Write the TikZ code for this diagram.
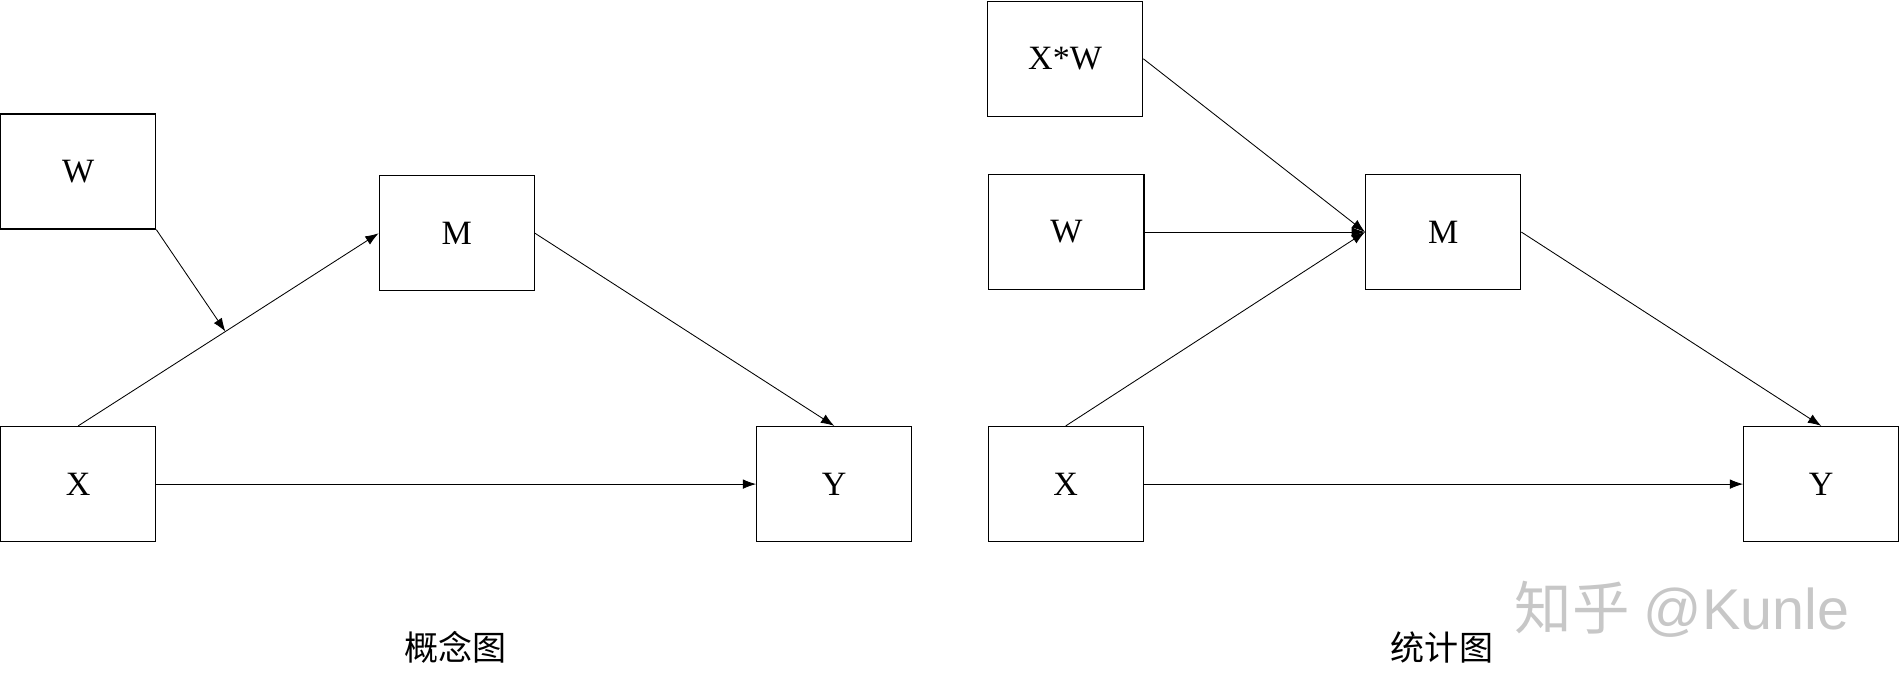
\documentclass[tikz,border=0pt]{standalone}
\usepackage{fontspec}
\setmainfont{Liberation Serif}
\newfontfamily\cjk{Noto Sans CJK SC}
\newfontfamily\marksans{Liberation Sans}
\usetikzlibrary{arrows.meta,calc}
\tikzset{
  var/.style={rectangle, draw=black, semithick, minimum width=2.56cm, minimum height=1.9cm, font=\fontsize{16}{16}\selectfont},
  path/.style={-{Latex[length=2.2mm,width=1.6mm]}, thin}
}
\begin{document}
\begin{tikzpicture}[x=0.02cm,y=-0.02cm]
        \useasboundingbox (0,0) rectangle (1568,568);

        % conceptual model
        \node[var] (W) at(64.5,141.5){W};
        \node[var] (M) at(377,192.5){M};
        \node[var] (X) at(64.5,399.5){X};
        \node[var] (Y) at(688.5,399.5){Y};

        \draw [path] (X.north) -- (M.west);
        \coordinate (XM) at ($(X.north)!0.49!(M.west)$);
        \draw [path] (W.south east) -- (XM);
        \draw [path] (M.east) -- (Y.north);
        \draw [path] (X.east) -- (Y.west);

        \node[font=\cjk\fontsize{16}{16}\selectfont] (concept) at(376,534){概念图};

        % statistical model
        \node[var] (XW2) at(879,48.5){X*W};
        \node[var] (W2) at(880,191.5){W};
        \node[var] (M2) at(1191,191.5){M};
        \node[var] (X2) at(879.5,399.5){X};
        \node[var] (Y2) at(1503,399.5){Y};

        \draw [path] (XW2.east) -- (M2.west);
        \draw [path] (W2.east) -- (M2.west);
        \draw [path] (X2.north) -- (M2.west);
        \draw [path] (M2.east) -- (Y2.north);
        \draw [path] (X2.east) -- (Y2.west);

        \node[font=\cjk\fontsize{16}{16}\selectfont] (stat) at(1190,534){统计图};

        \node[text=black!22, font=\fontsize{27}{27}\selectfont] (mark) at(1388,503){{\cjk 知乎} {\marksans @Kunle}};
\end{tikzpicture}
\end{document}
